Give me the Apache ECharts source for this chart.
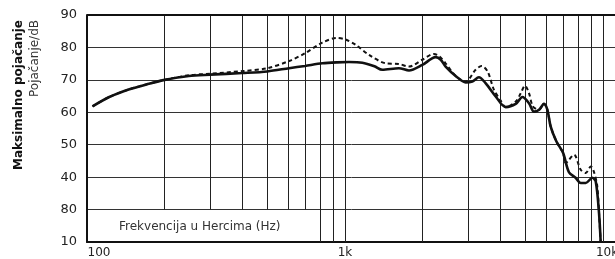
<!DOCTYPE html>
<html><head><meta charset="utf-8">
<script src="https://cdn.jsdelivr.net/npm/echarts@6/dist/echarts.min.js"></script>
<style>html,body{margin:0;padding:0;background:#fff}#c{width:615px;height:259px}</style>
</head><body><div id="c"></div>
<script>
// Solid curve (Hz, dB)
const solidFreq = [105,122,146,174,200,248,300,400,500,607,700,817,930,1036,1167,1300,1395,1618,1770,1994,2246,2350,2455,2685,2936,3115,3303,3506,3837,4196,4590,4870,5165,5404,5652,5907,6085,6270,6600,7000,7380,7830,8195,8570,9090,9370,9650,9795];
const solidDb   = [61.8,64.7,67.1,68.8,70,71.2,71.6,72.1,72.6,73.6,74.3,75.1,75.4,75.5,75.3,74.2,73.1,73.6,72.9,74.6,77.0,76.2,74.1,71.2,69.2,69.5,70.8,69.0,64.9,61.6,62.6,64.7,62.8,60.2,60.8,62.6,60.8,55.6,51,47.5,41.5,39.8,38.2,38.2,39.8,38.7,29,20];
// Dashed curve (Hz, dB)
const dashFreq = [105,122,146,174,200,248,300,400,500,607,700,817,930,1000,1100,1239,1439,1618,1770,1994,2210,2310,2455,2685,2936,3207,3384,3570,3780,4000,4196,4590,4800,4986,5165,5350,5652,5907,6085,6270,6600,7000,7170,7720,8195,8570,8970,9250,9500,9650,9795];
const dashDb   = [61.8,64.7,67.1,68.8,70,71.4,71.9,72.7,73.6,75.8,78.2,81.5,82.9,82.5,80.8,77.7,75.1,74.9,74.1,76.2,78,77.4,75.1,71.2,69.5,73.1,74.3,72.6,66.9,63.8,61.6,63.3,65.9,68.2,65.9,61.8,60.8,62.6,60.8,55.6,51,47.5,44.4,46.9,42.3,41.3,43.3,41.3,37.2,29,20];
// Axis ticks
const yTickValues = [20,30,40,50,60,70,80,90];
const yTickLabels = ['10','80','40','50','60','70','80','90'];
const xTickValues = [100,1000,10000];
const xTickLabels = ['100','1k','10k'];
const gridFreqs = [200,300,400,500,600,700,800,900,1000,2000,3000,4000,5000,6000,7000,8000,9000,10000];
const boxMaxFreq = 750; // label box in lowest row covers grid lines below this frequency
const xTitle = 'Frekvencija u Hercima (Hz)';
const yTitle1 = 'Maksimalno pojačanje';
const yTitle2 = 'Pojačanje/dB';

const FONT = 'DejaVu Sans';
const chart = echarts.init(document.getElementById('c'), null, {renderer:'canvas'});
const zip = (a,b)=>a.map((v,i)=>[v,b[i]]);
const vLines = gridFreqs.map(f => [{coord:[f, f < boxMaxFreq ? 30 : 20]}, {coord:[f, 90]}]);
const xRich = ['first','mid','last'];

chart.setOption({
  animation:false,
  grid:{left:87, top:15, width:529, height:227, show:false, containLabel:false, outerBoundsMode:'none'},
  xAxis:{type:'log', logBase:10, min:100, max:Math.pow(10, 2 + 529/258),
    axisLine:{show:true, lineStyle:{color:'#111', width:2}},
    axisTick:{show:false}, splitLine:{show:false}, minorSplitLine:{show:false},
    axisLabel:{show:true, margin:5, color:'#222', fontFamily:FONT, fontSize:12,
      showMinLabel:true, showMaxLabel:false, hideOverlap:false,
      rich:{
        first:{fontFamily:FONT, fontSize:12, color:'#222', padding:[0,0,0,24]},
        mid:{fontFamily:FONT, fontSize:12, color:'#222'},
        last:{fontFamily:FONT, fontSize:12, color:'#222', padding:[0,0,0,8]}
      },
      formatter:v=>{const i=xTickValues.findIndex(t=>Math.abs(t-v)/t<1e-6); return i>=0?('{'+xRich[i]+'|'+xTickLabels[i]+'}'):'';}}},
  yAxis:{type:'value', min:20, max:90, interval:10,
    axisLine:{show:true, lineStyle:{color:'#111', width:2}},
    axisTick:{show:false},
    splitLine:{show:true, lineStyle:{color:'#333', width:1}},
    axisLabel:{margin:10, color:'#222', fontFamily:FONT, fontSize:13,
      formatter:v=>{const i=yTickValues.indexOf(v); return i>=0?yTickLabels[i]:'';}}},
  graphic:[
    {type:'text', x:19, y:20, rotation:Math.PI/2, style:{text:yTitle1, font:'bold 12px "DejaVu Sans"', fill:'#111', align:'right', verticalAlign:'middle'}},
    {type:'text', x:35, y:20, rotation:Math.PI/2, style:{text:yTitle2, font:'12px "DejaVu Sans"', fill:'#333', align:'right', verticalAlign:'middle'}},
    {type:'text', x:119, y:227, style:{text:xTitle, font:'12px "DejaVu Sans"', fill:'#333', align:'left', verticalAlign:'middle'}}
  ],
  series:[
    {type:'line', data:[], silent:true,
      markLine:{silent:true, symbol:['none','none'], label:{show:false}, animation:false,
        lineStyle:{color:'#222', width:1, type:'solid'}, data:vLines}},
    {type:'line', data:[], showSymbol:false, silent:true,
      markLine:{silent:true, symbol:['none','none'], label:{show:false},
        lineStyle:{color:'#111', width:2, type:'solid'}, data:[{yAxis:90}]}},
    {type:'line', name:'dash', data:zip(dashFreq,dashDb), smooth:0.3, showSymbol:false, silent:true, z:4,
      lineStyle:{color:'#111', width:2, type:[4,3]}},
    {type:'line', name:'solid', data:zip(solidFreq,solidDb), smooth:0.3, showSymbol:false, silent:true, z:5,
      lineStyle:{color:'#111', width:2.6}}
  ]
});
</script></body></html>
